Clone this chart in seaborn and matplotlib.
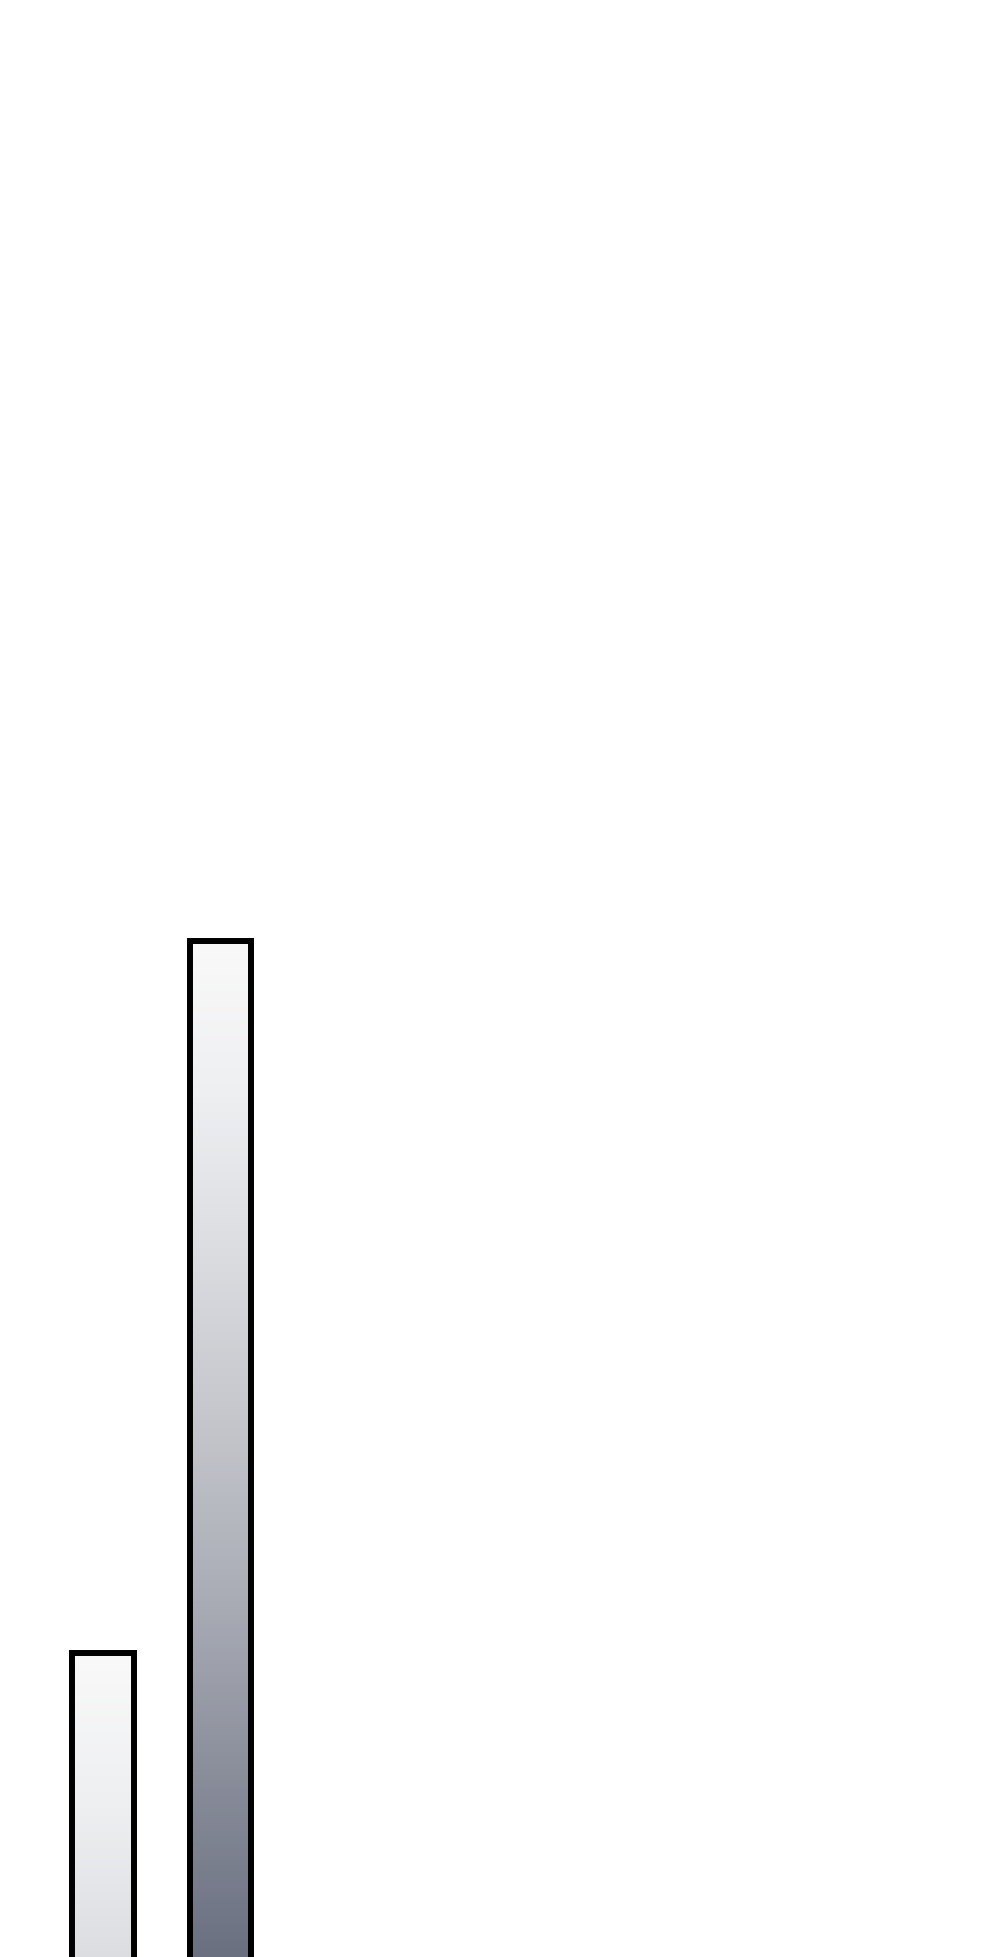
import numpy as np
import pandas as pd
import matplotlib
matplotlib.use("Agg")
import matplotlib.pyplot as plt
from matplotlib.colors import LinearSegmentedColormap
import seaborn as sns

# ---- data ----
categories = ["A", "B"]
values = [45, 80]

df = pd.DataFrame({"category": categories, "value": values})

sns.set_theme(style="white")
plt.rcParams['font.family'] = ['DejaVu Sans']

fig = plt.figure(figsize=(10, 19.57), dpi=100)
fig.patch.set_facecolor("white")
ax = fig.add_axes([0, 0, 1, 1])
ax.set_facecolor("white")

sns.barplot(data=df, x="category", y="value", ax=ax, width=0.52,
            color="white", edgecolor="black", linewidth=4.3, zorder=2)

# gradient by distance from the bar's top (in data units)
grad_cmap = LinearSegmentedColormap.from_list(
    "bargrad",
    [(0.0, "#f9f9f9"), (0.15, "#eeeff1"), (0.30, "#dcdde1"),
     (0.50, "#c0c2c8"), (0.65, "#a9acb5"), (0.82, "#8a8e9b"),
     (1.0, "#6b7081")])
dmax = 50.0

for patch in ax.patches:
    x0 = patch.get_x()
    w = patch.get_width()
    y0 = patch.get_y()
    h = patch.get_height()
    top = y0 + h
    n = 600
    d = np.linspace(0, h, n)
    cols = grad_cmap(np.clip(d / dmax, 0, 1))[:, :3]
    img = np.repeat(cols[:, None, :], 2, axis=1)
    im = ax.imshow(img, extent=[x0, x0 + w, y0, top], origin="upper",
                   aspect="auto", zorder=1, interpolation="bilinear")
    im.set_clip_path(patch)
    patch.set_facecolor("none")
    patch.set_zorder(3)

ax.set_xlim(-0.877, 7.634)
ax.set_ylim(30.05, 126.3)
ax.set_axis_off()

fig.savefig("out.png", dpi=100, facecolor="white")
